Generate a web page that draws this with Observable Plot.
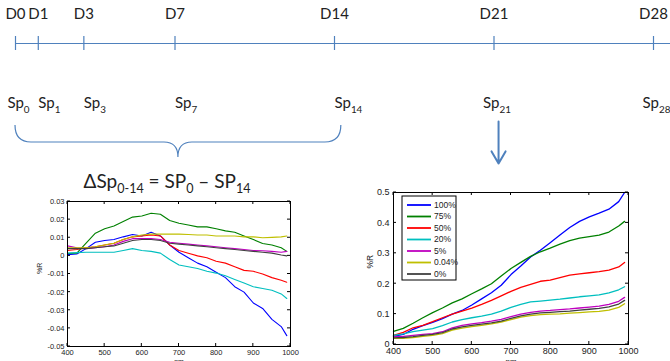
<!DOCTYPE html>
<html><head><meta charset="utf-8">
<script src="https://cdn.jsdelivr.net/npm/d3@7"></script>
<script src="https://cdn.jsdelivr.net/npm/@observablehq/plot@0.6"></script>
<style>
body{margin:0;background:#fff;}
#wrap{position:relative;width:670px;height:361px;overflow:hidden;background:#fff;}
#wrap > svg{position:absolute;background:transparent;}
</style></head><body><div id="wrap"></div>
<script>
// ---------- data ----------
const days = [0, 1, 3, 7, 14, 21, 28];
const dayLabels = ["D0", "D1", "D3", "D7", "D14", "D21", "D28"];
const spLabels = ["Sp{0}", "Sp{1}", "Sp{3}", "Sp{7}", "Sp{14}", "Sp{21}", "Sp{28}"];
const titleText = "ΔSp{0-14} = SP{0} – SP{14}";
const braceDays = [0, 14.3];
const arrowDay = [21.2];

const seriesNames = ["100%", "75%", "50%", "20%", "5%", "0.04%", "0%"];
const seriesColors = ["#0000ff", "#008000", "#ff0000", "#00bfbf", "#bf00bf", "#bfbf00", "#404040"];

const wavelengths = [400,425,450,475,500,525,550,575,600,625,650,675,700,725,750,775,800,825,850,875,900,925,950,975,990];

// Left panel: ΔSp0-14
const d100 = [0.0007,0.001,0.004,0.0075,0.0085,0.009,0.0105,0.0118,0.011,0.013,0.011,0.006,0.002,-0.001,-0.004,-0.006,-0.009,-0.012,-0.017,-0.02,-0.026,-0.029,-0.035,-0.039,-0.044];
const d75  = [0.0013,0.0015,0.007,0.0125,0.015,0.0165,0.019,0.0214,0.022,0.0235,0.023,0.0195,0.018,0.017,0.016,0.016,0.015,0.0138,0.013,0.011,0.009,0.0068,0.006,0.0045,0.0025];
const d50  = [0.003,0.0035,0.0045,0.005,0.006,0.007,0.009,0.0105,0.011,0.0115,0.011,0.006,0.003,0.0015,0.0,-0.001,-0.003,-0.004,-0.006,-0.008,-0.0085,-0.01,-0.012,-0.0135,-0.0145];
const d20  = [0.0015,0.0018,0.002,0.002,0.002,0.002,0.003,0.004,0.003,0.0025,0.0015,-0.002,-0.005,-0.006,-0.007,-0.0085,-0.0095,-0.011,-0.013,-0.015,-0.017,-0.018,-0.019,-0.021,-0.0235];
const d5   = [0.0055,0.0045,0.004,0.0045,0.005,0.006,0.008,0.0095,0.0095,0.0095,0.009,0.0075,0.007,0.0065,0.006,0.0055,0.005,0.0045,0.004,0.0035,0.003,0.0028,0.0025,0.002,0.0025];
const d004 = [0.0045,0.0045,0.0045,0.005,0.006,0.007,0.009,0.0105,0.0115,0.012,0.012,0.012,0.012,0.0118,0.0115,0.0115,0.011,0.011,0.011,0.0105,0.0105,0.010,0.0102,0.0105,0.011];
const d0   = [0.004,0.004,0.004,0.0045,0.005,0.0055,0.007,0.0085,0.009,0.009,0.0085,0.007,0.0065,0.006,0.0055,0.005,0.0045,0.004,0.0035,0.003,0.0025,0.002,0.0015,0.0005,0.0];

// Right panel: %R at D21
const r100 = [0.027,0.033,0.05,0.062,0.073,0.085,0.10,0.112,0.13,0.15,0.17,0.195,0.23,0.258,0.288,0.31,0.335,0.36,0.385,0.405,0.42,0.432,0.445,0.47,0.5];
const r75  = [0.043,0.053,0.07,0.088,0.105,0.12,0.137,0.15,0.167,0.183,0.2,0.225,0.25,0.27,0.29,0.305,0.317,0.33,0.342,0.35,0.355,0.36,0.37,0.39,0.405];
const r50  = [0.03,0.04,0.055,0.063,0.075,0.088,0.1,0.11,0.12,0.132,0.145,0.16,0.175,0.188,0.198,0.208,0.212,0.22,0.228,0.232,0.236,0.24,0.245,0.255,0.27];
const r20  = [0.03,0.035,0.042,0.047,0.052,0.062,0.074,0.082,0.088,0.093,0.1,0.11,0.122,0.132,0.14,0.143,0.146,0.149,0.153,0.157,0.16,0.163,0.17,0.18,0.19];
const r5   = [0.026,0.027,0.03,0.033,0.036,0.042,0.055,0.063,0.068,0.072,0.077,0.083,0.092,0.1,0.106,0.11,0.112,0.115,0.117,0.12,0.123,0.126,0.132,0.142,0.155];
const r004 = [0.02,0.02,0.023,0.027,0.03,0.036,0.047,0.054,0.059,0.063,0.068,0.074,0.082,0.09,0.095,0.098,0.1,0.101,0.103,0.105,0.107,0.109,0.113,0.122,0.134];
const r0   = [0.022,0.023,0.026,0.03,0.033,0.039,0.051,0.058,0.063,0.067,0.071,0.077,0.086,0.094,0.1,0.104,0.106,0.108,0.11,0.113,0.116,0.119,0.124,0.133,0.145];

const xTicks = [400, 500, 600, 700, 800, 900, 1000];
const yTicksLeft = [-0.05, -0.04, -0.03, -0.02, -0.01, 0, 0.01, 0.02, 0.03];
const yTicksRight = [0, 0.1, 0.2, 0.3, 0.4, 0.5];
const xLabel = "nm";
const yLabel = "%R";

// ---------- helpers ----------
const toRows = (arrs) => arrs.flatMap((vals, s) => vals.map((v, i) => ({series: seriesNames[s], nm: wavelengths[i], v})));
const deltaRows = toRows([d100, d75, d50, d20, d5, d004, d0]);
const reflRows = toRows([r100, r75, r50, r20, r5, r004, r0]);
const fmt = d => d === 0 ? "0" : String(+d.toFixed(2));

function subify(svg) {
  d3.select(svg).selectAll("text").each(function () {
    const t = this.textContent;
    if (!t.includes("{")) return;
    const fs = parseFloat(getComputedStyle(this).fontSize) || 15;
    while (this.firstChild) this.removeChild(this.firstChild);
    const parts = t.split(/(\{[^}]*\})/).filter(s => s);
    let prevSub = false;
    for (const p of parts) {
      const isSub = p.startsWith("{");
      const ts = d3.select(this).append("tspan").text(isSub ? p.slice(1, -1) : p);
      if (isSub) { ts.attr("font-size", fs * 0.66); if (!prevSub) ts.attr("dy", fs * 0.3); }
      else if (prevSub) ts.attr("dy", -fs * 0.3);
      prevSub = isSub;
    }
  });
}

const wrap = document.getElementById("wrap");
const accent = "#4f81bd";

// ---------- top diagram ----------
function brace(index, scales) {
  const x0 = scales.x(braceDays[0]), x1 = scales.x(braceDays[1]), xm = (x0 + x1) / 2;
  const yT = scales.y(125), yM = scales.y(142), yB = scales.y(157);
  const r = 16, r2 = 14;
  const d = `M${x0},${yT} Q${x0},${yM} ${x0 + r},${yM} L${xm - r2},${yM} Q${xm},${yM} ${xm},${yB} Q${xm},${yM} ${xm + r2},${yM} L${x1 - r},${yM} Q${x1},${yM} ${x1},${yT}`;
  return d3.create("svg:path").attr("d", d).attr("fill", "none").attr("stroke", accent).attr("stroke-width", 1.2).node();
}

const topPlot = Plot.plot({
  width: 670, height: 361, margin: 0,
  x: {domain: [0, 28], range: [15, 653], axis: null},
  y: {domain: [0, 361], range: [0, 361], axis: null},
  style: {background: "transparent", fontFamily: "Lato, 'Open Sans', sans-serif", color: "#222"},
  marks: [
    Plot.ruleY([43], {x1: 0, x2: 28.8, stroke: accent, strokeWidth: 1.2}),
    Plot.ruleX(days, {x: d => d, y1: 36, y2: 50, stroke: accent, strokeWidth: 1.2}),
    Plot.text(days, {x: d => d, y: 14, text: (d, i) => dayLabels[i], fontSize: 15, fill: "#222"}),
    Plot.text(days.filter(d => d > 0 && d < 21), {x: d => d, y: 103, text: d => spLabels[days.indexOf(d)], textAnchor: "start", fontSize: 15, fill: "#222"}),
    Plot.text(days.filter(d => d === 0 || d >= 21), {x: d => d, y: 103, text: d => spLabels[days.indexOf(d)], dx: 3, fontSize: 15, fill: "#222"}),
    brace,
    Plot.arrow(arrowDay, {x1: d => d, x2: d => d, y1: 121, y2: 163, stroke: accent, strokeWidth: 2, headLength: 11}),
    Plot.text([7], {x: d => d, y: 181, dx: -8, text: () => titleText, fontSize: 19, fill: "#222"})
  ]
});
wrap.appendChild(topPlot);
subify(topPlot);

// ---------- MATLAB-style box with inward ticks on all sides ----------
function boxTicks(yTicks) {
  return (index, scales, values, dims) => {
    const g = d3.create("svg:g").attr("stroke", "#000").attr("stroke-width", 1);
    const top = dims.marginTop, bottom = dims.height - dims.marginBottom;
    const left = dims.marginLeft, right = dims.width - dims.marginRight;
    for (const t of xTicks) {
      const x = scales.x(t);
      g.append("line").attr("x1", x).attr("x2", x).attr("y1", top).attr("y2", top + 3);
      g.append("line").attr("x1", x).attr("x2", x).attr("y1", bottom).attr("y2", bottom - 3);
    }
    for (const t of yTicks) {
      const y = scales.y(t);
      g.append("line").attr("x1", right).attr("x2", right - 3).attr("y1", y).attr("y2", y);
      g.append("line").attr("x1", left).attr("x2", left + 3).attr("y1", y).attr("y2", y);
    }
    return g.node();
  };
}
function boxAxes(yTicks, fontSize, padX, padY) {
  return [
    Plot.text(xTicks, {x: d => d, frameAnchor: "bottom", dy: padX, lineAnchor: "top", text: d => String(d), fontSize, fill: "#222"}),
    Plot.text(yTicks, {y: d => d, frameAnchor: "left", dx: -padY, textAnchor: "end", text: fmt, fontSize, fill: "#222"}),
    boxTicks(yTicks),
    Plot.frame({stroke: "#000", strokeWidth: 1})
  ];
}

// ---------- left chart ----------
const leftPlot = Plot.plot({
  width: 270, height: 166,
  marginLeft: 37, marginRight: 10, marginTop: 6, marginBottom: 15,
  x: {domain: [400, 1000], axis: null},
  y: {domain: [-0.05, 0.03], axis: null},
  color: {domain: seriesNames, range: seriesColors},
  style: {background: "transparent", fontFamily: "'Liberation Sans', Arial, sans-serif", color: "#222", overflow: "visible"},
  marks: [
    Plot.line(deltaRows, {x: "nm", y: "v", z: "series", stroke: "series", strokeWidth: 1.1}),
    ...boxAxes(yTicksLeft, 7.5, 3, 3),
    Plot.text([yLabel], {frameAnchor: "left", dx: -28, rotate: -90, text: d => d, fontSize: 7, fill: "#222"}),
    Plot.text([xLabel], {frameAnchor: "bottom", dy: 13, lineAnchor: "top", text: d => d, fontSize: 7, fill: "#222"})
  ]
});
leftPlot.style.left = "30px"; leftPlot.style.top = "195px";
wrap.appendChild(leftPlot);

// ---------- right chart ----------
function legend(index, scales, values, dims) {
  const g = d3.create("svg:g").attr("font-size", 8.5).attr("fill", "#222").attr("text-anchor", "start");
  const bx = dims.marginLeft + 9, by = dims.marginTop + 4, bw = 54, bh = 84;
  g.append("rect").attr("x", bx).attr("y", by).attr("width", bw).attr("height", bh)
    .attr("fill", "#fff").attr("stroke", "#000").attr("stroke-width", 1);
  seriesNames.forEach((s, i) => {
    const y = by + 9 + i * 11.5;
    g.append("line").attr("x1", bx + 5).attr("x2", bx + 29).attr("y1", y).attr("y2", y)
      .attr("stroke", scales.color(s)).attr("stroke-width", 1.8);
    g.append("text").attr("x", bx + 32).attr("y", y).attr("dy", "0.35em").attr("text-anchor", "start").text(s);
  });
  return g.node();
}

const rightPlot = Plot.plot({
  width: 300, height: 181,
  marginLeft: 43, marginRight: 22, marginTop: 12, marginBottom: 17,
  x: {domain: [400, 1000], axis: null},
  y: {domain: [0, 0.5], axis: null},
  color: {domain: seriesNames, range: seriesColors},
  style: {background: "transparent", fontFamily: "'Liberation Sans', Arial, sans-serif", color: "#222", overflow: "visible"},
  marks: [
    Plot.line(reflRows, {x: "nm", y: "v", z: "series", stroke: "series", strokeWidth: 1.3}),
    ...boxAxes(yTicksRight, 9, 3, 4),
    Plot.text([yLabel], {frameAnchor: "left", dx: -23, rotate: -90, text: d => d, fontSize: 8.5, fill: "#222"}),
    Plot.text([xLabel], {frameAnchor: "bottom", dy: 14, lineAnchor: "top", text: d => d, fontSize: 8, fill: "#222"}),
    legend
  ]
});
rightPlot.style.left = "350px"; rightPlot.style.top = "180px";
wrap.appendChild(rightPlot);
</script></body></html>
